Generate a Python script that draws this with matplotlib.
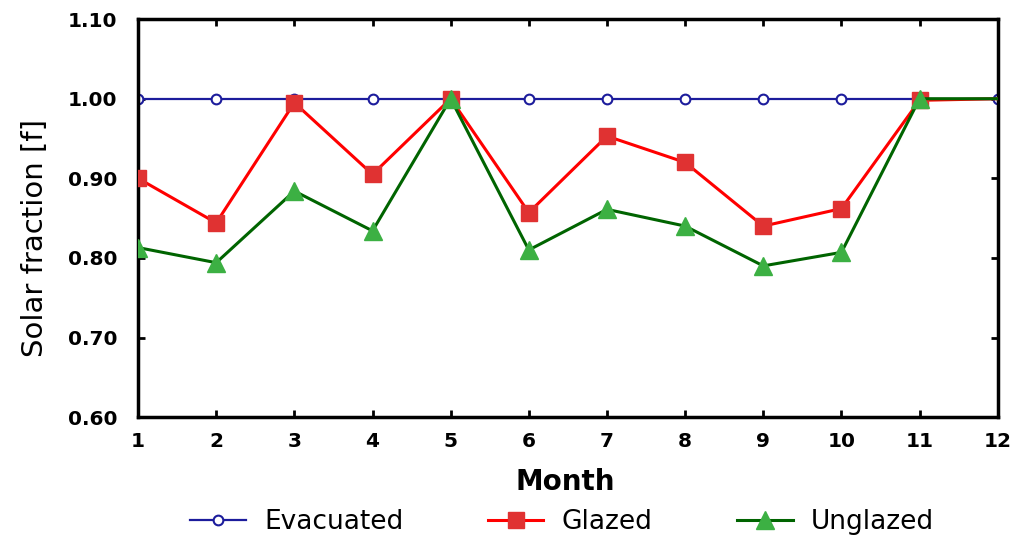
import matplotlib
matplotlib.use('Agg')
import matplotlib.pyplot as plt

months = [1, 2, 3, 4, 5, 6, 7, 8, 9, 10, 11, 12]
evacuated = [1.00, 1.00, 1.00, 1.00, 1.00, 1.00, 1.00, 1.00, 1.00, 1.00, 1.00, 1.00]
glazed = [0.900, 0.844, 0.995, 0.905, 1.000, 0.857, 0.953, 0.920, 0.840, 0.862, 0.998, 1.000]
unglazed = [0.813, 0.794, 0.884, 0.834, 1.000, 0.810, 0.861, 0.840, 0.790, 0.807, 1.000, 1.000]
yticks = [0.60, 0.70, 0.80, 0.90, 1.00, 1.10]

fig = plt.figure(figsize=(10.15, 5.46), dpi=100)
ax = fig.add_axes([0.136, 0.236, 0.847, 0.729])

ax.plot(months, evacuated, color='#1c1c9c', lw=1.6, marker='o', ms=7,
        mfc='white', mec='#1c1c9c', mew=1.5, label='Evacuated', zorder=2)
ax.plot(months, glazed, color='#ff0000', lw=2.2, marker='s', ms=12,
        mfc='#e03232', mec='#e03232', markevery=list(range(11)), label='Glazed', zorder=3)
ax.plot(months, unglazed, color='#006400', lw=2.2, marker='^', ms=13,
        mfc='#3cb043', mec='#3cb043', markevery=list(range(11)), label='Unglazed', zorder=4)

ax.set_xlim(1, 12)
ax.set_ylim(0.6, 1.1)
ax.set_xticks(months)
ax.set_yticks(yticks)
ax.set_yticklabels(['%.2f' % v for v in yticks])
for s in ax.spines.values():
    s.set_linewidth(2.5)
ax.tick_params(direction='in', length=5, width=2, top=True, right=True)
ax.tick_params(axis='y', pad=15)
ax.tick_params(axis='x', pad=11)
for lab in ax.get_xticklabels() + ax.get_yticklabels():
    lab.set_fontweight('heavy')
    lab.set_fontsize(14.5)

ax.set_xlabel('Month', fontsize=20, fontweight='heavy')
ax.xaxis.set_label_coords(0.497, -0.128)
ax.set_ylabel('Solar fraction [f]', fontsize=21)
ax.yaxis.set_label_coords(-0.104, 0.45)

leg = fig.legend(loc='center', bbox_to_anchor=(0.554, 0.044), ncol=3, frameon=False,
                 prop={'size': 19},
                 columnspacing=3.2, handlelength=2.1, handletextpad=0.7)

fig.savefig('out.png', dpi=100)
